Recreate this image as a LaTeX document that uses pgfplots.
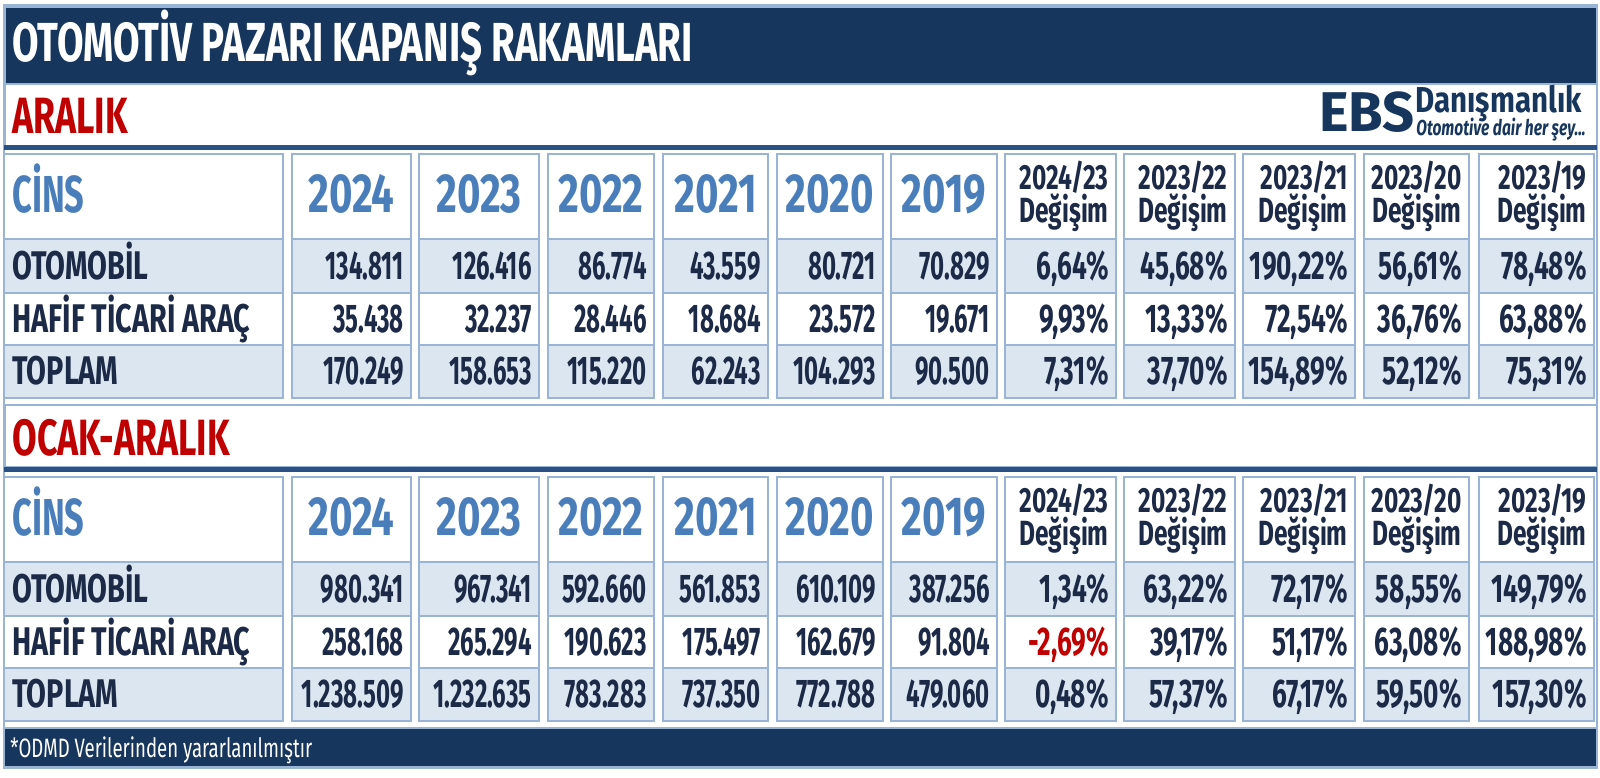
\documentclass[border=0pt]{standalone}
\usepackage{fontspec}
\setmainfont{Fira Sans}[FakeStretch=0.7]
\newfontfamily\logofont{Fira Sans}
\newfontfamily\numfont{Fira Sans}[FakeStretch=0.6]
\newfontfamily\pctfont{Fira Sans}[FakeStretch=0.655]
\newfontfamily\lblfont{Fira Sans}[FakeStretch=0.72]
\newfontfamily\yrfont{Fira Sans}[FakeStretch=0.73]
\newfontfamily\cinsfont{Fira Sans}[FakeStretch=0.66]
\newfontfamily\dfont{Fira Sans}[FakeStretch=0.82]
\newfontfamily\ofont{Fira Sans}[FakeStretch=0.72]
\usepackage{pgfplots}
\pgfplotsset{compat=1.18}

\definecolor{navy}{HTML}{17365D}
\definecolor{ink}{HTML}{1C2A47}
\definecolor{hdrblue}{HTML}{4A7EBB}
\definecolor{rowfill}{HTML}{DCE6F1}
\definecolor{cellline}{HTML}{9AB4D6}
\definecolor{rulecol}{HTML}{2A5185}
\definecolor{secred}{HTML}{C00000}

\pgfplotsset{
  lbl/.style={only marks, mark=none, point meta=explicit symbolic, nodes near coords,
    nodes near coords style={inner sep=0pt, anchor=base east,
      font=\numfont\fontsize{20}{22}\selectfont\bfseries, text=ink}},
  pct/.style={lbl, nodes near coords style={font=\pctfont\fontsize{20}{22}\selectfont\bfseries}},
  lblw/.style={lbl, nodes near coords style={anchor=base west, font=\lblfont\fontsize{20}{22}\selectfont\bfseries}},
  yr/.style={lbl, nodes near coords style={anchor=base,
      font=\yrfont\fontsize{27.5}{29}\selectfont\bfseries, text=hdrblue}},
  cins/.style={lbl, nodes near coords style={anchor=base west,
      font=\cinsfont\fontsize{26}{28}\selectfont\bfseries, text=hdrblue}},
  chg/.style={lbl, nodes near coords style={font=\fontsize{17.5}{19}\selectfont\bfseries}},
}

\begin{document}
\begin{tikzpicture}
\begin{axis}[x=0.5pt, y=0.5pt, y dir=reverse, xmin=0, xmax=1600, ymin=0, ymax=777,
  enlargelimits=false, hide axis, scale only axis, clip=false]

% background, bars and bands
\fill[white] (axis cs:0,0) rectangle (axis cs:1600,777);
\draw[cellline, line width=0.75pt] (axis cs:4,5) rectangle (axis cs:1597,768);
\filldraw[fill=navy, draw=cellline, line width=0.75pt] (axis cs:5,7) rectangle (axis cs:1597,84);
\draw[cellline, line width=0.75pt] (axis cs:5,84) rectangle (axis cs:1597,146);
\fill[rulecol] (axis cs:4,145) rectangle (axis cs:1597,150);
\draw[cellline, line width=0.75pt] (axis cs:5,405) rectangle (axis cs:1597,467);
\fill[rulecol] (axis cs:4,467) rectangle (axis cs:1597,472);
\filldraw[fill=navy, draw=cellline, line width=0.75pt] (axis cs:4,728) rectangle (axis cs:1597,767);

% table cells
\foreach \a/\b in {4/283,292/411,419/539,548/654,663/768,777/883,891/997,1005/1116,1124/1235,1243/1355,1364/1469,1479/1594}{
  \edef\tmp{
  \noexpand\filldraw[fill=white, draw=cellline, line width=0.75pt] (axis cs:\a,154) rectangle (axis cs:\b,239);
  \noexpand\filldraw[fill=rowfill, draw=cellline, line width=0.75pt] (axis cs:\a,239) rectangle (axis cs:\b,293);
  \noexpand\filldraw[fill=white, draw=cellline, line width=0.75pt] (axis cs:\a,293) rectangle (axis cs:\b,345);
  \noexpand\filldraw[fill=rowfill, draw=cellline, line width=0.75pt] (axis cs:\a,345) rectangle (axis cs:\b,398);
  \noexpand\filldraw[fill=white, draw=cellline, line width=0.75pt] (axis cs:\a,477) rectangle (axis cs:\b,562);
  \noexpand\filldraw[fill=rowfill, draw=cellline, line width=0.75pt] (axis cs:\a,562) rectangle (axis cs:\b,616);
  \noexpand\filldraw[fill=white, draw=cellline, line width=0.75pt] (axis cs:\a,616) rectangle (axis cs:\b,668);
  \noexpand\filldraw[fill=rowfill, draw=cellline, line width=0.75pt] (axis cs:\a,668) rectangle (axis cs:\b,721);
  }\tmp
}

% titles
\node[anchor=base west, inner sep=0pt, text=white, font=\fontsize{27.5}{29}\selectfont\bfseries]
  at (axis cs:12,61) {OTOMOTİV PAZARI KAPANIŞ RAKAMLARI};
\node[anchor=base west, inner sep=0pt, text=secred, font=\fontsize{25.5}{27}\selectfont\bfseries]
  at (axis cs:12,133) {ARALIK};
\node[anchor=base west, inner sep=0pt, text=secred, font=\fontsize{25.5}{27}\selectfont\bfseries]
  at (axis cs:12,455) {OCAK-ARALIK};
\node[anchor=base west, inner sep=0pt, text=white, font=\fontsize{13.3}{14}\selectfont]
  at (axis cs:10,757) {*ODMD Verilerinden yararlanılmıştır};
% logo
\node[anchor=base west, inner sep=0pt, text=navy, font=\logofont\fontsize{28}{30}\selectfont\bfseries]
  at (axis cs:1319,131) {EBS};
\node[anchor=base west, inner sep=0pt, text=navy, font=\dfont\fontsize{18}{20}\selectfont\bfseries]
  at (axis cs:1415,112) {Danışmanlık};
\node[anchor=base west, inner sep=0pt, text=navy, font=\ofont\fontsize{10.8}{12}\selectfont\bfseries\itshape]
  at (axis cs:1416,135) {Otomotive dair her şey...};

% ---- ARALIK ----
\addplot[yr] coordinates {(351.5,212) [2024] (479,212) [2023] (601,212) [2022] (715.5,212) [2021] (830,212) [2020] (944,212) [2019]};
\addplot[cins] coordinates {(12,212) [CİNS]};
\addplot[chg] coordinates {(1109,189) [2024/23] (1228,189) [2023/22] (1348,189) [2023/21] (1462,189) [2023/20] (1587,189) [2023/19]};
\addplot[chg] coordinates {(1109,222) [Değişim] (1228,222) [Değişim] (1348,222) [Değişim] (1462,222) [Değişim] (1587,222) [Değişim]};
\addplot[lblw] coordinates {(12,279) [OTOMOBİL] (12,332) [HAFİF TİCARİ ARAÇ] (12,384) [TOPLAM]};

\addplot[lbl] coordinates {(404,279) [134.811] (532,279) [126.416] (647,279) [86.774] (761,279) [43.559] (876,279) [80.721] (990,279) [70.829]};
\addplot[pct] coordinates {(1109,279) [{6,64\%}] (1228,279) [{45,68\%}] (1348,279) [{190,22\%}] (1462,279) [{56,61\%}] (1587,279) [{78,48\%}]};
\addplot[lbl] coordinates {(404,332) [35.438] (532,332) [32.237] (647,332) [28.446] (761,332) [18.684] (876,332) [23.572] (990,332) [19.671]};
\addplot[pct] coordinates {(1109,332) [{9,93\%}] (1228,332) [{13,33\%}] (1348,332) [{72,54\%}] (1462,332) [{36,76\%}] (1587,332) [{63,88\%}]};
\addplot[lbl] coordinates {(404,384) [170.249] (532,384) [158.653] (647,384) [115.220] (761,384) [62.243] (876,384) [104.293] (990,384) [90.500]};
\addplot[pct] coordinates {(1109,384) [{7,31\%}] (1228,384) [{37,70\%}] (1348,384) [{154,89\%}] (1462,384) [{52,12\%}] (1587,384) [{75,31\%}]};

% ---- OCAK-ARALIK ----
\addplot[yr] coordinates {(351.5,535) [2024] (479,535) [2023] (601,535) [2022] (715.5,535) [2021] (830,535) [2020] (944,535) [2019]};
\addplot[cins] coordinates {(12,535) [CİNS]};
\addplot[chg] coordinates {(1109,512) [2024/23] (1228,512) [2023/22] (1348,512) [2023/21] (1462,512) [2023/20] (1587,512) [2023/19]};
\addplot[chg] coordinates {(1109,545) [Değişim] (1228,545) [Değişim] (1348,545) [Değişim] (1462,545) [Değişim] (1587,545) [Değişim]};
\addplot[lblw] coordinates {(12,602) [OTOMOBİL] (12,655) [HAFİF TİCARİ ARAÇ] (12,707) [TOPLAM]};

\addplot[lbl] coordinates {(404,602) [980.341] (532,602) [967.341] (647,602) [592.660] (761,602) [561.853] (876,602) [610.109] (990,602) [387.256]};
\addplot[pct] coordinates {(1109,602) [{1,34\%}] (1228,602) [{63,22\%}] (1348,602) [{72,17\%}] (1462,602) [{58,55\%}] (1587,602) [{149,79\%}]};
\addplot[lbl] coordinates {(404,655) [258.168] (532,655) [265.294] (647,655) [190.623] (761,655) [175.497] (876,655) [162.679] (990,655) [91.804]};
\addplot[pct] coordinates {(1228,655) [{39,17\%}] (1348,655) [{51,17\%}] (1462,655) [{63,08\%}] (1587,655) [{188,98\%}]};
\addplot[pct, nodes near coords style={text=secred}] coordinates {(1109,655) [{-2,69\%}]};
\addplot[lbl] coordinates {(404,707) [1.238.509] (532,707) [1.232.635] (647,707) [783.283] (761,707) [737.350] (876,707) [772.788] (990,707) [479.060]};
\addplot[pct] coordinates {(1109,707) [{0,48\%}] (1228,707) [{57,37\%}] (1348,707) [{67,17\%}] (1462,707) [{59,50\%}] (1587,707) [{157,30\%}]};
\end{axis}
\pgfresetboundingbox
\path[use as bounding box] (0,0) rectangle (800pt,388.5pt);
\end{tikzpicture}
\end{document}
